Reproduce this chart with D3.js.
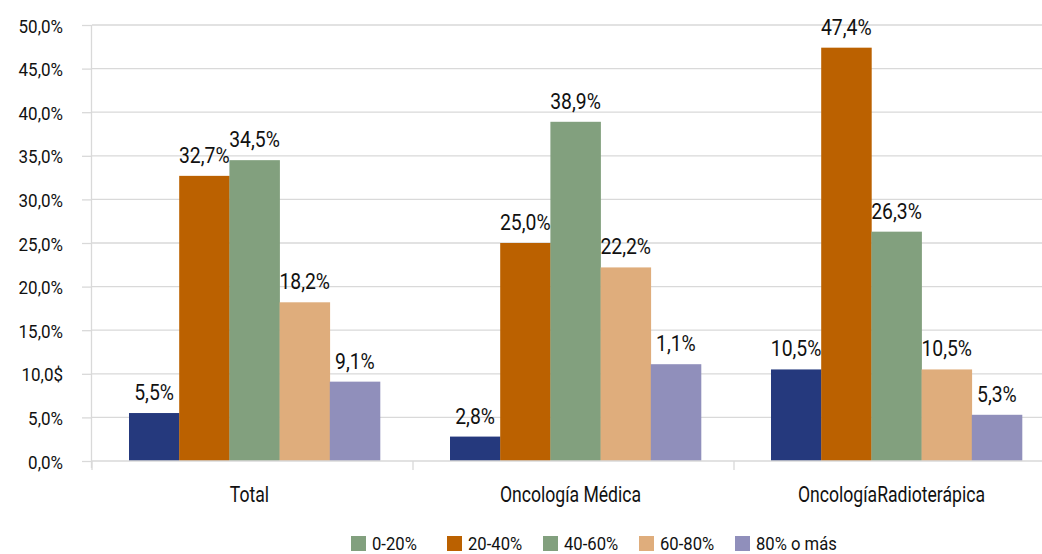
<!DOCTYPE html>
<html>
<head>
<meta charset="utf-8">
<script src="https://cdn.jsdelivr.net/npm/d3@7"></script>
<style>
  html, body { margin: 0; padding: 0; background: #fff; }
  svg text { font-family: Roboto, "DejaVu Sans Condensed", sans-serif; fill: #111; }
</style>
</head>
<body>
<svg id="chart" width="1042" height="554"></svg>
<script>
const categories = ["Total", "Oncología Médica", "OncologíaRadioterápica"];
const seriesNames = ["0-20%", "20-40%", "40-60%", "60-80%", "80% o más"];
const values = {
  "0-20%":     [5.5, 2.8, 10.5],
  "20-40%":    [32.7, 25.0, 47.4],
  "40-60%":    [34.5, 38.9, 26.3],
  "60-80%":    [18.2, 22.2, 10.5],
  "80% o más": [9.1, 11.1, 5.3]
};
const labels = {
  "0-20%":     ["5,5%", "2,8%", "10,5%"],
  "20-40%":    ["32,7%", "25,0%", "47,4%"],
  "40-60%":    ["34,5%", "38,9%", "26,3%"],
  "60-80%":    ["18,2%", "22,2%", "10,5%"],
  "80% o más": ["9,1%", "1,1%", "5,3%"]
};
const yTicks = [0, 5, 10, 15, 20, 25, 30, 35, 40, 45, 50];
const yTickLabels = ["0,0%", "5,0%", "10,0$", "15,0%", "20,0%", "25,0%", "30,0%", "35,0%", "40,0%", "45,0%", "50,0%"];
const barColors = ["#25397D", "#BB6100", "#82A07E", "#DFAD7C", "#908FBB"];
const legendColors = ["#82A07E", "#BB6100", "#82A07E", "#DFAD7C", "#908FBB"];

const svg = d3.select("#chart");
const axisX = 92, plotRight = 1042, plotTop = 25, plotBottom = 461;

function narrowText(sel, x, y, size, sx, anchor, str) {
  return sel.append("text")
    .attr("transform", `translate(${x},${y}) scale(${sx},1)`)
    .attr("font-size", size)
    .attr("text-anchor", anchor)
    .text(str);
}

const y = d3.scaleLinear().domain([0, 50]).range([plotBottom, plotTop]);
const x0 = d3.scaleBand().domain(categories).range([93, 1056]).padding(0);
const x1 = d3.scaleBand().domain(seriesNames).range([36, x0.bandwidth() - 34]).padding(0);

// gridlines
svg.append("g").selectAll("line").data(yTicks.filter(d => d > 0)).join("line")
  .attr("x1", axisX).attr("x2", plotRight)
  .attr("y1", d => y(d)).attr("y2", d => y(d))
  .attr("stroke", "#D9D9D9").attr("stroke-width", 1.3);

// y axis
const yAxis = svg.append("g").attr("transform", `translate(${axisX},0)`)
  .call(d3.axisLeft(y).tickValues(yTicks).tickSize(10).tickFormat(() => ""));
yAxis.select(".domain").attr("stroke", "#D9D9D9").attr("stroke-width", 1.3)
  .attr("d", `M-0.5,${plotTop}V${plotBottom + 7}`);
yAxis.selectAll(".tick line").attr("stroke", "#D9D9D9").attr("stroke-width", 1.3);
yAxis.selectAll(".tick").each(function(d, i) {
  narrowText(d3.select(this), -29, 7, 18.5, 0.92, "end", yTickLabels[i]);
});

// bars
const groups = svg.append("g").selectAll("g").data(categories).join("g")
  .attr("transform", d => `translate(${x0(d)},0)`);
groups.each(function(cat, ci) {
  const g = d3.select(this);
  seriesNames.forEach((s, si) => {
    const v = values[s][ci];
    g.append("rect")
      .attr("x", x1(s)).attr("width", x1.bandwidth() + 0.3)
      .attr("y", y(v)).attr("height", y(0) - y(v))
      .attr("fill", barColors[si]);
  });
});
groups.each(function(cat, ci) {
  const g = d3.select(this);
  seriesNames.forEach((s, si) => {
    const v = values[s][ci];
    narrowText(g, x1(s) + x1.bandwidth() / 2, y(v) - 13, 22, 0.88, "middle", labels[s][ci]);
  });
});

// x axis
const xAxisG = svg.append("g").attr("transform", `translate(0,${plotBottom})`);
xAxisG.append("line").attr("x1", axisX).attr("x2", plotRight)
  .attr("stroke", "#D9D9D9").attr("stroke-width", 1.3);
const boundaries = categories.map(c => x0(c));
xAxisG.selectAll(".bt").data(boundaries).join("line").attr("class", "bt")
  .attr("x1", d => d - 1).attr("x2", d => d - 1).attr("y1", 0).attr("y2", 9)
  .attr("stroke", "#D9D9D9").attr("stroke-width", 1.3);
categories.forEach(c => {
  narrowText(xAxisG, x0(c) + x0.bandwidth() / 2 - 4, 41, 22, 0.8, "middle", c);
});

// legend
const legend = svg.append("g").attr("transform", "translate(351,535)");
const li = legend.selectAll("g").data(seriesNames).join("g")
  .attr("transform", (d, i) => `translate(${i * 96},0)`);
li.append("rect").attr("y", 1).attr("width", 15).attr("height", 15).attr("fill", (d, i) => legendColors[i]);
li.each(function(d) { narrowText(d3.select(this), 21, 14.5, 18.5, 0.9, "start", d); });
</script>
</body>
</html>
